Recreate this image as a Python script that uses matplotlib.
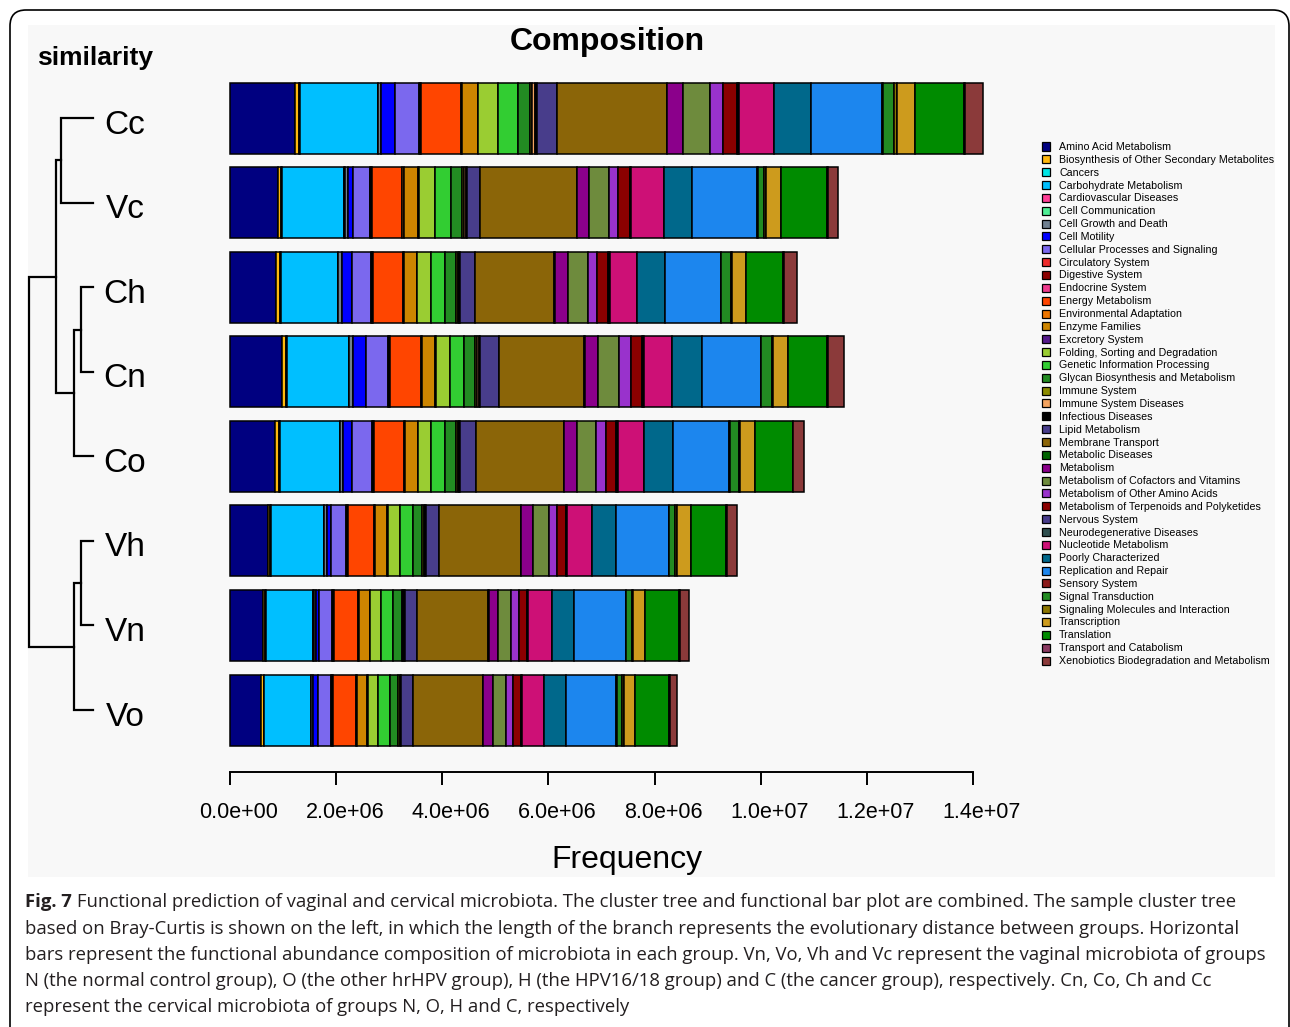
import numpy as np
import matplotlib
matplotlib.use("Agg")
import matplotlib.pyplot as plt
from matplotlib.patches import Rectangle, FancyBboxPatch
from matplotlib.transforms import IdentityTransform, ScaledTranslation
from matplotlib.ticker import FuncFormatter

plt.rcParams["font.family"] = ["Liberation Sans", "DejaVu Sans"]

# ===== 数据 (单位: 1e6) =====
samples = ["Cc", "Vc", "Ch", "Cn", "Co", "Vh", "Vn", "Vo"]

categories = [
    "Amino Acid Metabolism", "Biosynthesis of Other Secondary Metabolites", "Cancers",
    "Carbohydrate Metabolism", "Cardiovascular Diseases", "Cell Communication",
    "Cell Growth and Death", "Cell Motility", "Cellular Processes and Signaling",
    "Circulatory System", "Digestive System", "Endocrine System", "Energy Metabolism",
    "Environmental Adaptation", "Enzyme Families", "Excretory System",
    "Folding, Sorting and Degradation", "Genetic Information Processing",
    "Glycan Biosynthesis and Metabolism", "Immune System", "Immune System Diseases",
    "Infectious Diseases", "Lipid Metabolism", "Membrane Transport", "Metabolic Diseases",
    "Metabolism", "Metabolism of Cofactors and Vitamins", "Metabolism of Other Amino Acids",
    "Metabolism of Terpenoids and Polyketides", "Nervous System",
    "Neurodegenerative Diseases", "Nucleotide Metabolism", "Poorly Characterized",
    "Replication and Repair", "Sensory System", "Signal Transduction",
    "Signaling Molecules and Interaction", "Transcription", "Translation",
    "Transport and Catabolism", "Xenobiotics Biodegradation and Metabolism",
]

cc = [1.22, 0.08, 0.02, 1.46, 0.005, 0.005, 0.06, 0.26, 0.45, 0.013, 0.013, 0.013, 0.75, 0.02,
      0.30, 0.01, 0.38, 0.36, 0.24, 0.04, 0.04, 0.04, 0.38, 2.07, 0.01, 0.30, 0.51, 0.24, 0.27,
      0.02, 0.02, 0.66, 0.68, 1.35, 0.01, 0.22, 0.04, 0.35, 0.92, 0.02, 0.34]
vc = [0.90, 0.06, 0.02, 1.17, 0.006, 0.006, 0.07, 0.09, 0.31, 0.013, 0.013, 0.012, 0.58, 0.02,
      0.28, 0.01, 0.30, 0.31, 0.20, 0.04, 0.03, 0.02, 0.25, 1.82, 0.01, 0.22, 0.38, 0.18, 0.21,
      0.015, 0.013, 0.62, 0.53, 1.23, 0.01, 0.11, 0.04, 0.28, 0.87, 0.02, 0.19]
ch = [0.87, 0.075, 0.013, 1.07, 0.006, 0.006, 0.064, 0.20, 0.35, 0.015, 0.013, 0.009, 0.57, 0.019,
      0.24, 0.009, 0.25, 0.28, 0.19, 0.038, 0.028, 0.019, 0.29, 1.49, 0.009, 0.24, 0.38, 0.18, 0.20,
      0.015, 0.013, 0.52, 0.52, 1.06, 0.009, 0.18, 0.028, 0.25, 0.71, 0.013, 0.25]
cn = [0.98, 0.075, 0.013, 1.17, 0.006, 0.006, 0.073, 0.24, 0.41, 0.015, 0.013, 0.009, 0.58, 0.019,
      0.26, 0.009, 0.26, 0.27, 0.21, 0.038, 0.028, 0.019, 0.37, 1.60, 0.009, 0.25, 0.40, 0.22, 0.22,
      0.015, 0.013, 0.53, 0.57, 1.10, 0.009, 0.20, 0.028, 0.28, 0.73, 0.013, 0.31]
co = [0.84, 0.085, 0.013, 1.13, 0.006, 0.006, 0.055, 0.17, 0.38, 0.015, 0.013, 0.009, 0.55, 0.019,
      0.245, 0.009, 0.25, 0.26, 0.21, 0.028, 0.019, 0.015, 0.30, 1.66, 0.009, 0.24, 0.36, 0.18, 0.20,
      0.015, 0.013, 0.50, 0.54, 1.06, 0.009, 0.17, 0.028, 0.28, 0.71, 0.013, 0.21]
vh = [0.71, 0.047, 0.009, 1.00, 0.006, 0.006, 0.045, 0.075, 0.29, 0.013, 0.011, 0.009, 0.49, 0.019,
      0.23, 0.009, 0.23, 0.245, 0.17, 0.038, 0.028, 0.015, 0.24, 1.54, 0.009, 0.22, 0.30, 0.15, 0.17,
      0.013, 0.011, 0.47, 0.46, 0.99, 0.009, 0.11, 0.028, 0.27, 0.67, 0.013, 0.185]
vn = [0.62, 0.047, 0.009, 0.89, 0.006, 0.006, 0.036, 0.066, 0.25, 0.013, 0.011, 0.009, 0.44, 0.019,
      0.21, 0.009, 0.21, 0.22, 0.17, 0.028, 0.019, 0.009, 0.235, 1.33, 0.009, 0.18, 0.25, 0.14, 0.15,
      0.011, 0.009, 0.46, 0.41, 0.98, 0.009, 0.10, 0.028, 0.22, 0.65, 0.015, 0.165]
vo = [0.575, 0.057, 0.009, 0.88, 0.006, 0.006, 0.036, 0.094, 0.245, 0.011, 0.011, 0.009, 0.43, 0.019,
      0.20, 0.009, 0.20, 0.21, 0.16, 0.028, 0.019, 0.009, 0.22, 1.32, 0.009, 0.18, 0.245, 0.13, 0.15,
      0.009, 0.009, 0.43, 0.415, 0.94, 0.009, 0.10, 0.028, 0.22, 0.64, 0.013, 0.14]

# 聚类树 (Bray-Curtis): (左, 右, 高度)
merges = [
    ("Cc", "Vc", 0.162),
    ("Ch", "Cn", 0.060),
    ("Ch+Cn", "Co", 0.095),
    ("Cc+Vc", "Ch+Cn+Co", 0.187),
    ("Vh", "Vn", 0.060),
    ("Vh+Vn", "Vo", 0.095),
    ("Cc+Vc+Ch+Cn+Co", "Vh+Vn+Vo", 0.320),
]

colors = [
    "#000080", "#FFB90F", "#00E5E5", "#00BFFF", "#FF3E96", "#4EEE94", "#708090", "#0000FF",
    "#7B68EE", "#EE2C2C", "#8B0000", "#EE3A8C", "#FF4500", "#EE7600", "#CD8500", "#551A8B",
    "#9ACD32", "#32CD32", "#228B22", "#8B8B00", "#F4A460", "#000000", "#483D8B", "#8B6508",
    "#006400", "#8B008B", "#6E8B3D", "#9932CC", "#8B0000", "#473C8B", "#2F4F4F", "#CD1076",
    "#00688B", "#1C86EE", "#8B1A1A", "#228B22", "#8B7500", "#CD9B1D", "#008B00", "#8B3A62",
    "#8B3A3A",
]

caption_lines = [
    "Functional prediction of vaginal and cervical microbiota. The cluster tree and functional bar plot are combined. The sample cluster tree",
    "based on Bray-Curtis is shown on the left, in which the length of the branch represents the evolutionary distance between groups. Horizontal",
    "bars represent the functional abundance composition of microbiota in each group. Vn, Vo, Vh and Vc represent the vaginal microbiota of groups",
    "N (the normal control group), O (the other hrHPV group), H (the HPV16/18 group) and C (the cancer group), respectively. Cn, Co, Ch and Cc",
    "represent the cervical microbiota of groups N, O, H and C, respectively",
]

# ===== 画布 =====
W, H = 1290, 1027
fig = plt.figure(figsize=(W / 100, H / 100), dpi=100)
fig.patch.set_facecolor("white")

def fx(px):
    return px / W

def fy(py):
    return 1 - py / H

# 外框 + 灰色底板
fig.add_artist(FancyBboxPatch((10, -30), 1279, H - 10 + 30,
                              boxstyle="round,pad=0,rounding_size=16",
                              transform=IdentityTransform(), facecolor="white",
                              edgecolor="black", linewidth=1.2, zorder=-2))
fig.add_artist(Rectangle((fx(28), fy(877)), fx(1275) - fx(28), fy(25) - fy(877),
                         transform=fig.transFigure, facecolor="#F8F8F8",
                         edgecolor="none", zorder=-1))

# ===== 堆叠条形图 =====
data = np.array([cc, vc, ch, cn, co, vh, vn, vo]) * 1e6
ypos = np.arange(len(samples))[::-1].astype(float)
ylim = (-0.733, 7.51)

ax = fig.add_axes([fx(230), fy(772), fx(973) - fx(230), fy(75) - fy(772)])
ax.patch.set_visible(False)
left = np.zeros(len(samples))
for j, cat in enumerate(categories):
    ax.barh(ypos, data[:, j], left=left, height=0.84, color=colors[j],
            edgecolor="black", linewidth=1.1, label=cat, clip_on=False)
    left += data[:, j]

ax.set_xlim(0, 1.4e7)
ax.set_ylim(*ylim)
ax.set_xticks(np.arange(0, 1.41e7, 2e6))
ax.xaxis.set_major_formatter(FuncFormatter(lambda v, p: f"{v:.1e}"))
ax.tick_params(axis="x", direction="out", length=9.5, width=1.4, pad=12, labelsize=15.5)
shift = ScaledTranslation(9 / 100, 0, fig.dpi_scale_trans)
for lab in ax.get_xticklabels():
    lab.set_transform(lab.get_transform() + shift)
ax.set_yticks([])
for s in ["top", "right", "left"]:
    ax.spines[s].set_visible(False)
ax.spines["bottom"].set_linewidth(1.4)

# ===== 聚类树 =====
tax = fig.add_axes([fx(29), fy(772), fx(93) - fx(29), fy(75) - fy(772)])
tax.set_axis_off()
tax.set_xlim(merges[-1][2], 0)
tax.set_ylim(*ylim)
node_y = {s: y for s, y in zip(samples, ypos)}
node_h = {s: 0.0 for s in samples}
for a, b, h in merges:
    ya, yb = node_y[a], node_y[b]
    tax.plot([node_h[a], h, h, node_h[b]], [ya, ya, yb, yb], color="black",
             linewidth=1.6, clip_on=False, solid_joinstyle="miter")
    node_y[a + "+" + b] = (ya + yb) / 2
    node_h[a + "+" + b] = h

for s, y in zip(samples, ypos):
    py = 710 - y * 84.57 + 7
    fig.text(fx(125), fy(py), s, fontsize=24, ha="center", va="center")

# ===== 文本 =====
fig.text(fx(607), fy(42), "Composition", fontsize=23, fontweight="bold", ha="center", va="center")
fig.text(fx(37), fy(58), "similarity", fontsize=19, fontweight="bold", ha="left", va="center")
fig.text(fx(627), fy(860), "Frequency", fontsize=23, ha="center", va="center")

# ===== 图例 =====
for i, (cat, col) in enumerate(zip(categories, colors)):
    py = 146.5 + i * 12.85
    fig.add_artist(Rectangle((fx(1042), fy(py + 4)), fx(8), 8 / H, transform=fig.transFigure,
                             facecolor=col, edgecolor="black", linewidth=0.9))
    fig.text(fx(1059), fy(py + 0.5), cat, fontsize=7.7, ha="left", va="center")

# ===== 图注 =====
cap_font = ["Open Sans", "DejaVu Sans"]
cap_size = 13.3
cap_y = [902, 929, 955, 981, 1007]
t0 = fig.text(fx(25), fy(cap_y[0]), "Fig. 7", fontsize=cap_size, fontweight="bold",
              family=cap_font, color="#231F20", ha="left", va="center")
fig.canvas.draw()
ext = t0.get_window_extent(renderer=fig.canvas.get_renderer())
fig.text(ext.x1 / W + fx(5), fy(cap_y[0]), caption_lines[0], fontsize=cap_size, family=cap_font,
         color="#231F20", ha="left", va="center")
for line, py in zip(caption_lines[1:], cap_y[1:]):
    fig.text(fx(25), fy(py), line, fontsize=cap_size, family=cap_font, color="#231F20",
             ha="left", va="center")

fig.savefig("out.png", dpi=100)
